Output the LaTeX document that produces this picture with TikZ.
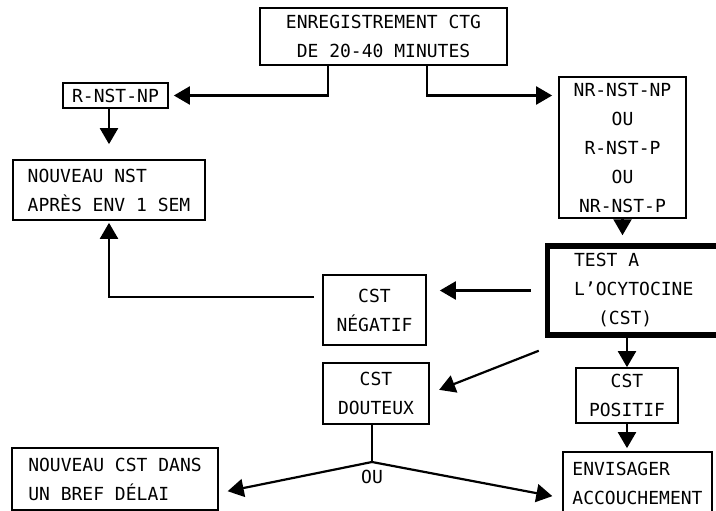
\documentclass[tikz,border=0pt]{standalone}
\usepackage{fontspec}
\setmonofont{DejaVu Sans Mono}
\usetikzlibrary{arrows.meta,calc}

\tikzset{
  box/.style={draw=black,line width=1.7pt,font=\ttfamily\fontsize{18}{29}\selectfont,align=center,inner sep=0pt},
  lbox/.style={box,align=left},
  word/.style={font=\ttfamily\fontsize{18}{29}\selectfont,inner sep=0pt},
  flow/.style={line width=2.2pt,-{Triangle[length=16pt,width=18pt]}},
  plain/.style={line width=2.2pt}
}

\begin{document}
\begin{tikzpicture}[x=1pt,y=-1pt]
\useasboundingbox (0,0) rectangle (716,511);
% the boxes
\node[box,minimum width=247pt,minimum height=57pt] (ctg) at (383.5,36.5) {ENREGISTREMENT CTG\\DE 20-40 MINUTES};
\node[box,minimum width=105pt,minimum height=25pt] (rnp) at (115.5,95.5) {R-NST-NP};
\node[box,minimum width=127pt,minimum height=141pt] (nr) at (622.5,147.5) {NR-NST-NP\\OU\\R-NST-P\\OU\\NR-NST-P};
\node[lbox,minimum width=192pt,minimum height=60pt] (nst) at (109,190) {NOUVEAU NST\\APRÈS ENV 1 SEM};
\node[lbox,line width=5.5pt,minimum width=172.5pt,minimum height=89pt] (test) at (633.75,290.5) {TEST A\\L’OCYTOCINE\\\hspace*{24pt}(CST)};
\node[box,minimum width=103pt,minimum height=70pt] (neg) at (374.5,310) {CST\\NÉGATIF};
\node[box,minimum width=106pt,minimum height=61pt] (dout) at (376,393.5) {CST\\DOUTEUX};
\node[box,minimum width=102pt,minimum height=55pt] (pos) at (627,395.5) {CST\\POSITIF};
\node[lbox,minimum width=149pt,minimum height=63pt] (env) at (637.5,483.5) {ENVISAGER\\ACCOUCHEMENT};
\node[lbox,minimum width=206pt,minimum height=62pt] (ncst) at (115,479) {NOUVEAU CST DANS\\UN BREF DÉLAI};
% the split below the doubtful test
\coordinate (ou) at (372,462);
\node[word] (oulabel) at (372,477) {OU};
% the arrows
\draw[flow,shorten >=5pt] ([xshift=-55.5pt]ctg.south) |- (rnp.east);
\draw[flow,shorten >=6pt] ([xshift=43.5pt]ctg.south) |- (rnp.east -| nr.west);
\draw[flow,shorten >=15pt] (nst.north |- rnp.south) -- (nst.north);
\draw[flow,shorten >=8pt] (nr.south) -- (nr.south |- test.north);
\draw[flow,shorten >=2pt] ([shift={(-8pt,13pt)}]neg.west) -| (nst.south);
\draw[flow,shorten >=13pt] ([xshift=-14pt]test.west) -- (test.west -| neg.east);
\draw[flow,shorten >=10pt] ([shift={(-6pt,-13pt)}]test.south west) -- (dout.east);
\draw[flow] (pos.north |- test.south) -- (pos.north);
\draw[flow,shorten >=3pt] (pos.south) -- (pos.south |- env.north);
\draw[plain] (ou |- dout.south) -- (ou);
\draw[flow,shorten >=9pt] (ou) -- ([yshift=-14pt]ncst.east);
\draw[flow,shorten >=10pt] (ou) -- ([yshift=-14.5pt]env.west);
\end{tikzpicture}
\end{document}
